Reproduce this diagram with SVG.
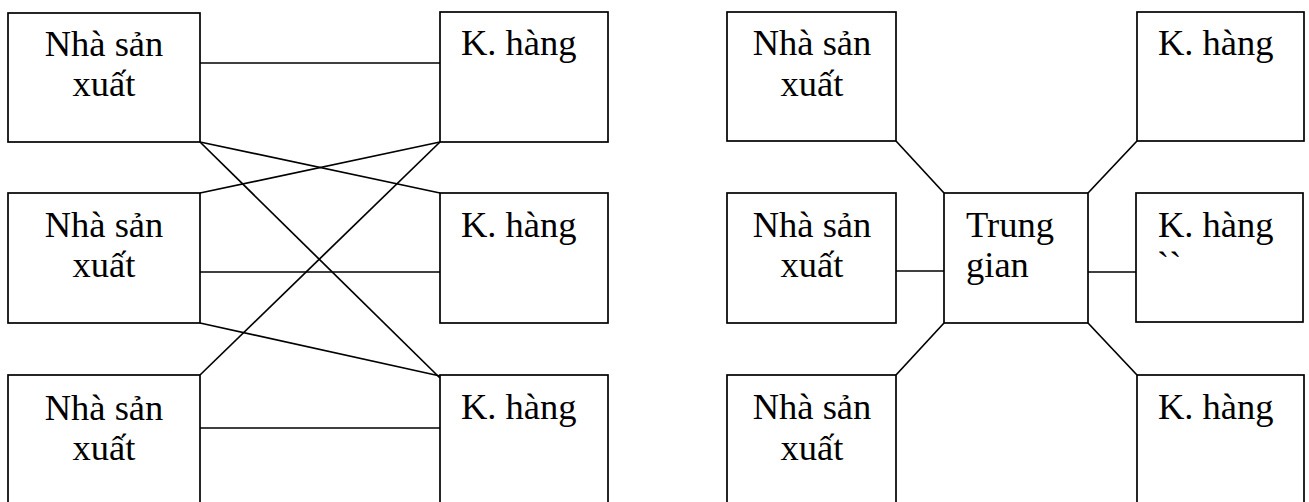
<svg xmlns="http://www.w3.org/2000/svg" width="1309" height="502" viewBox="0 0 1309 502">
  <style>
    .box { fill: #fff; stroke: #000; stroke-width: 1.7; }
    .link { stroke: #000; stroke-width: 1.7; fill: none; }
    text { font-family: 'Liberation Serif', 'Times New Roman', Times, serif; font-size: 36.5px; fill: #000; }
    .mid { text-anchor: middle; }
  </style>

  <!-- Left: direct producer-to-customer links -->
  <g id="connectors-direct">
    <line class="link" x1="200" y1="63" x2="440" y2="63"/>
    <line class="link" x1="200" y1="142" x2="440" y2="193"/>
    <line class="link" x1="440" y1="142" x2="200" y2="193"/>
    <line class="link" x1="200" y1="142" x2="440" y2="378"/>
    <line class="link" x1="440" y1="142" x2="200" y2="375"/>
    <line class="link" x1="200" y1="272" x2="440" y2="272"/>
    <line class="link" x1="200" y1="323" x2="440" y2="376"/>
    <line class="link" x1="200" y1="428" x2="440" y2="428"/>
  </g>

  <g id="producer-1">
    <rect class="box" x="8" y="13" width="192" height="129"/>
    <text class="mid" x="104" y="56">Nhà sản</text>
    <text class="mid" x="104" y="96">xuất</text>
  </g>
  <g id="producer-2">
    <rect class="box" x="8" y="193" width="192" height="130"/>
    <text class="mid" x="104" y="237">Nhà sản</text>
    <text class="mid" x="104" y="277">xuất</text>
  </g>
  <g id="producer-3">
    <rect class="box" x="8" y="375" width="192" height="140"/>
    <text class="mid" x="104" y="420">Nhà sản</text>
    <text class="mid" x="104" y="460">xuất</text>
  </g>
  <g id="customer-1">
    <rect class="box" x="440" y="12" width="168" height="130"/>
    <text x="461" y="55">K. hàng</text>
  </g>
  <g id="customer-2">
    <rect class="box" x="440" y="193" width="168" height="130"/>
    <text x="461" y="237">K. hàng</text>
  </g>
  <g id="customer-3">
    <rect class="box" x="440" y="375" width="168" height="140"/>
    <text x="461" y="419">K. hàng</text>
  </g>

  <!-- Right: all flows pass through the intermediary -->
  <g id="connectors-hub">
    <line class="link" x1="896" y1="141" x2="944" y2="193"/>
    <line class="link" x1="1088" y1="193" x2="1137" y2="141"/>
    <line class="link" x1="896" y1="271" x2="944" y2="271"/>
    <line class="link" x1="1088" y1="272" x2="1136" y2="272"/>
    <line class="link" x1="944" y1="323" x2="896" y2="375"/>
    <line class="link" x1="1088" y1="323" x2="1137" y2="375"/>
  </g>

  <g id="hub-producer-1">
    <rect class="box" x="727" y="12" width="169" height="129"/>
    <text class="mid" x="812" y="55">Nhà sản</text>
    <text class="mid" x="812" y="96">xuất</text>
  </g>
  <g id="hub-producer-2">
    <rect class="box" x="727" y="193" width="169" height="130"/>
    <text class="mid" x="812" y="237">Nhà sản</text>
    <text class="mid" x="812" y="277">xuất</text>
  </g>
  <g id="hub-producer-3">
    <rect class="box" x="727" y="375" width="169" height="140"/>
    <text class="mid" x="812" y="419">Nhà sản</text>
    <text class="mid" x="812" y="460">xuất</text>
  </g>
  <g id="intermediary">
    <rect class="box" x="944" y="193" width="144" height="130"/>
    <text x="966" y="237">Trung</text>
    <text x="966" y="277">gian</text>
  </g>
  <g id="hub-customer-1">
    <rect class="box" x="1137" y="12" width="167" height="129"/>
    <text x="1158" y="55">K. hàng</text>
  </g>
  <g id="hub-customer-2">
    <rect class="box" x="1136" y="193" width="167" height="129"/>
    <text x="1158" y="237">K. hàng</text>
    <text x="1157" y="277">``</text>
  </g>
  <g id="hub-customer-3">
    <rect class="box" x="1137" y="375" width="167" height="140"/>
    <text x="1158" y="419">K. hàng</text>
  </g>
</svg>
